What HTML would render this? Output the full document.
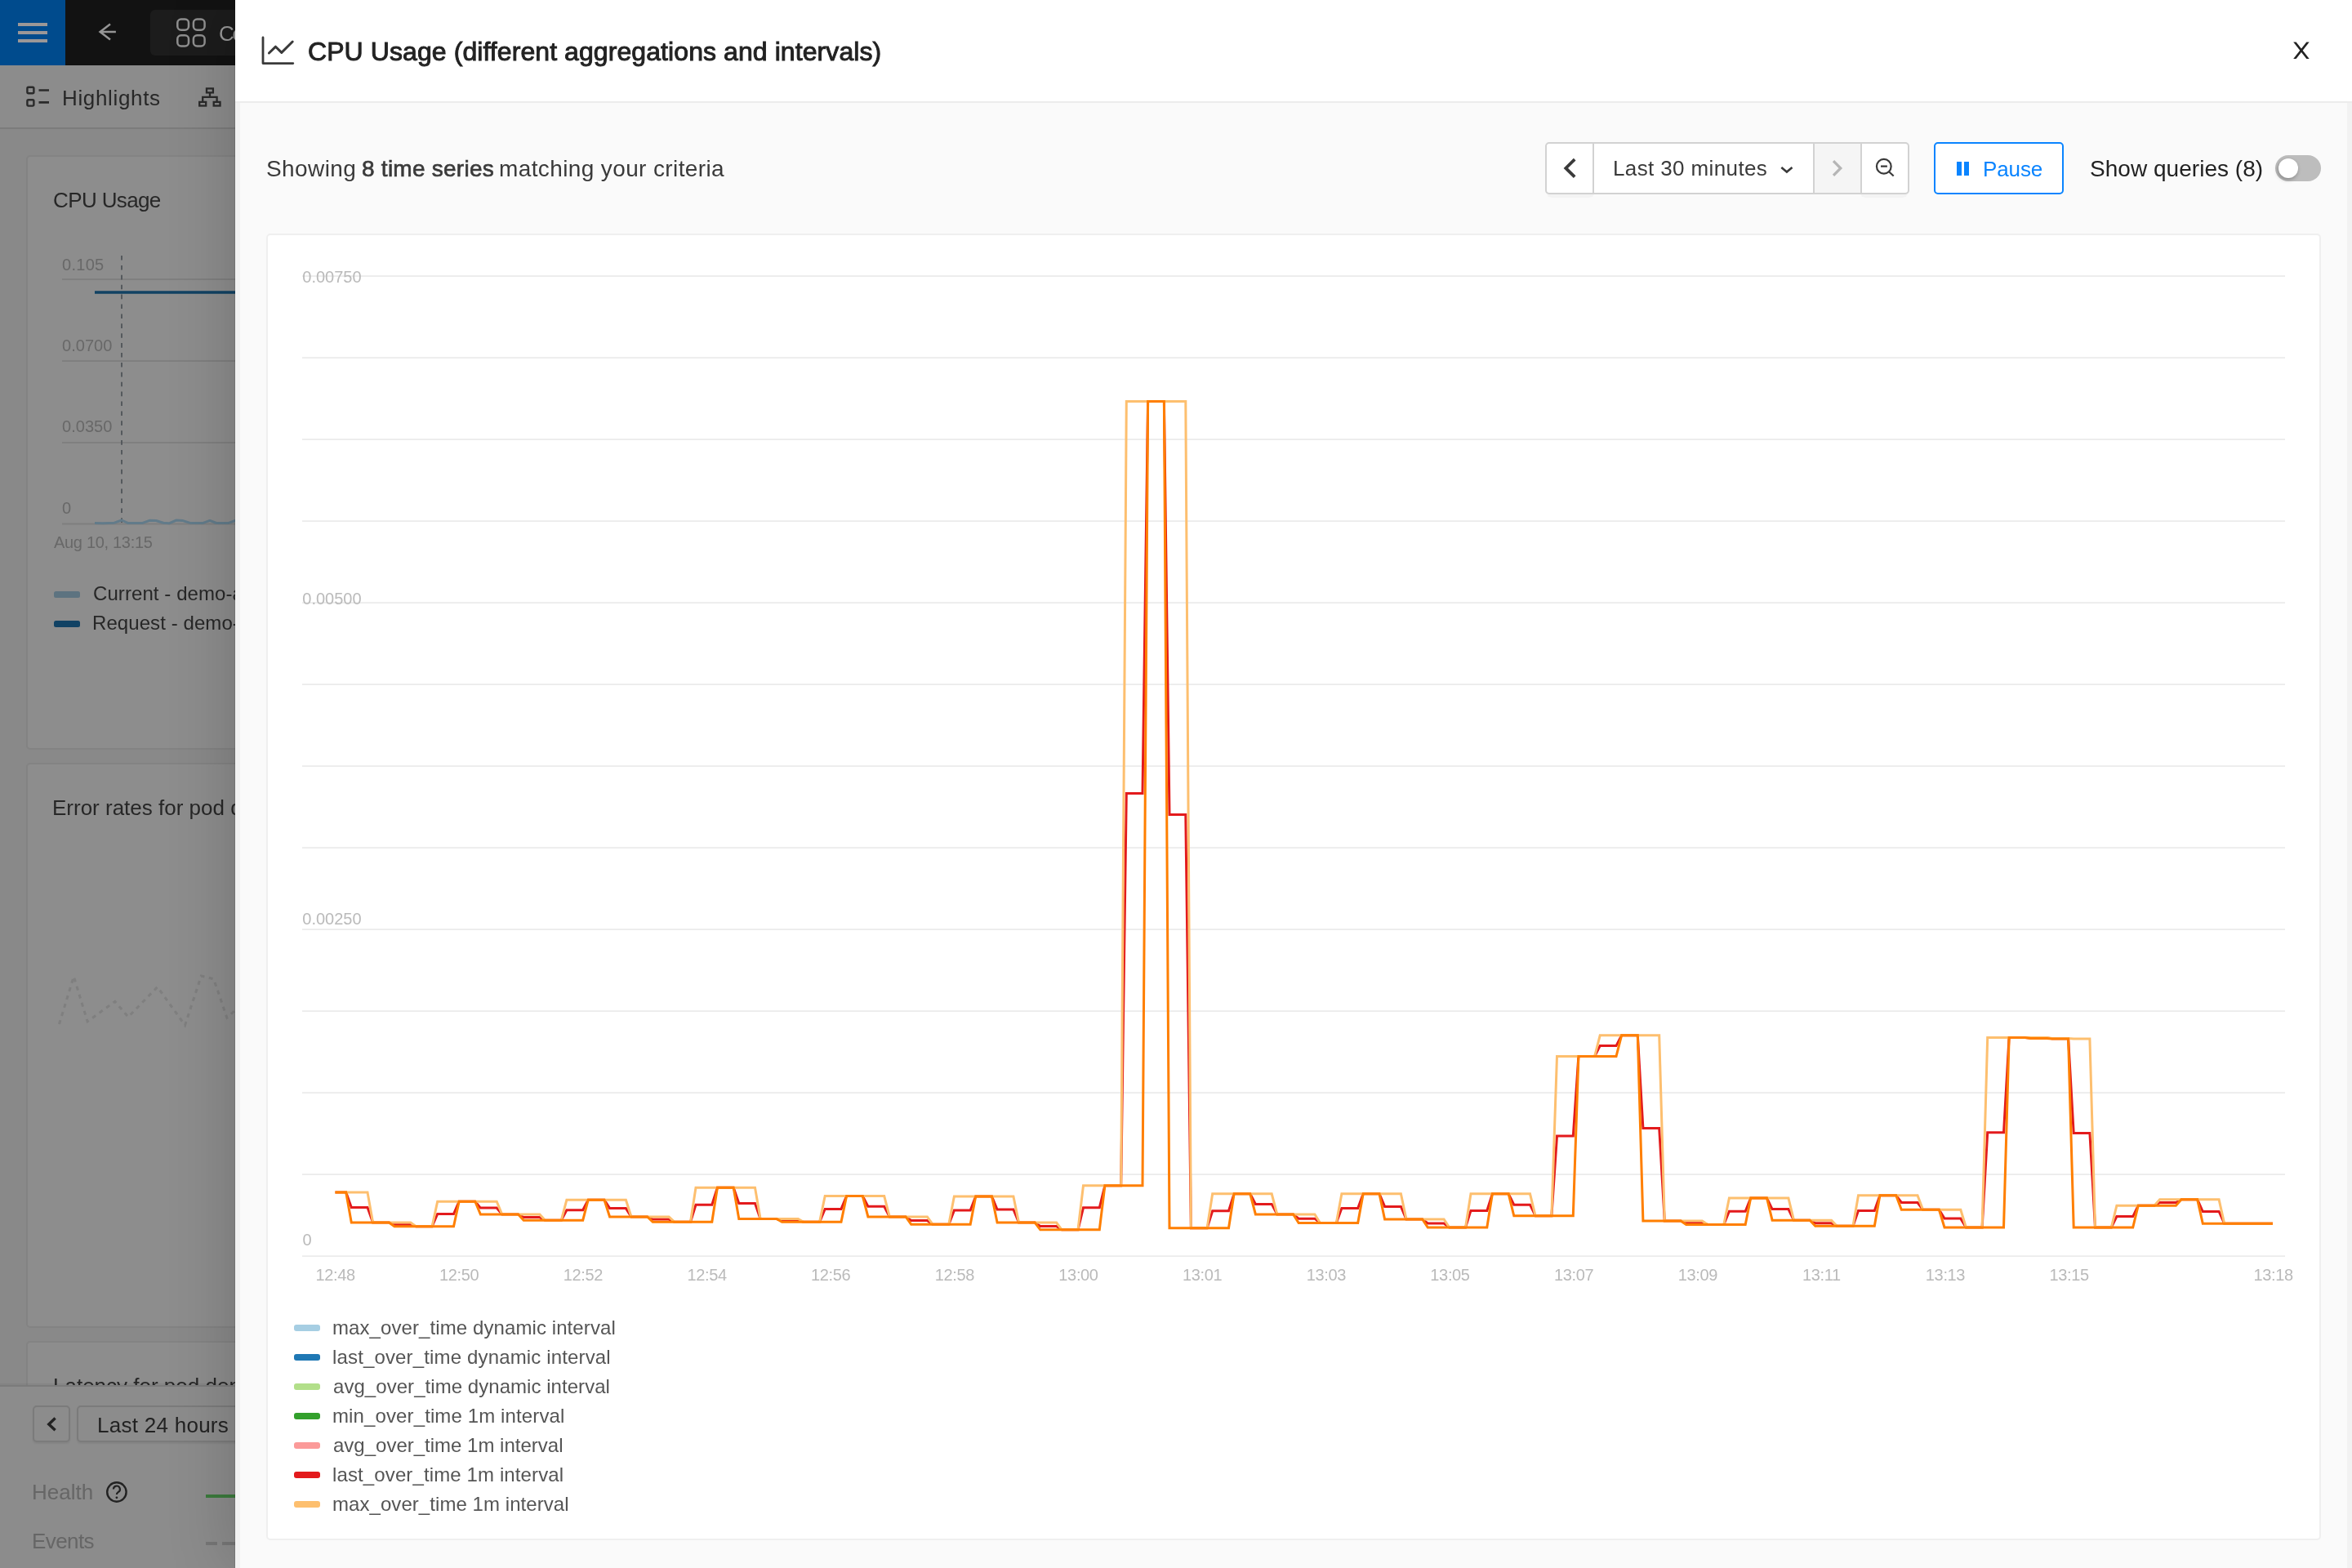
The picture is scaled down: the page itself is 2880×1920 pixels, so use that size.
<!DOCTYPE html>
<html lang="en">
<head>
<meta charset="utf-8">
<title>CPU Usage (different aggregations and intervals)</title>
<style>
*{box-sizing:border-box}
html,body{margin:0;padding:0}
body{font-family:"Liberation Sans",sans-serif;background:#898989}
#app{width:2880px;height:1920px;overflow:hidden;position:relative;background:#898989}
@media (min-width:1440px) and (max-width:1440px) and (min-height:960px) and (max-height:960px){#app{zoom:.5}}
.t{position:absolute;white-space:pre;line-height:1;margin:0;font-weight:normal;will-change:transform}
.abs{position:absolute}
svg{position:absolute;overflow:visible}
svg.chart{will-change:transform}
/* ---------- dimmed app behind the drawer ---------- */
#bg{position:absolute;left:0;top:0;width:2880px;height:1920px;overflow:hidden}
#topbar{position:absolute;left:0;top:0;width:2880px;height:80px;background:#121212}
#burger{position:absolute;left:0;top:0;width:80px;height:80px;background:#004b8d}
#burger i{position:absolute;left:22px;width:36px;height:4px;background:#9b9797}
#apptab{position:absolute;left:184px;top:12px;width:400px;height:56px;background:#1c1c1c;border-radius:6px}
#tabs{position:absolute;left:0;top:80px;width:2880px;height:78px;background:#8c8c8c;border-bottom:2px solid #7c7c7c}
.card{position:absolute;left:32px;width:1400px;background:#8d8d8d;border:2px solid #838383;border-radius:5px}
#footer{position:absolute;left:0;top:1696px;width:2880px;height:224px;background:#8c8c8c;border-top:2px solid #7b7b7b;box-shadow:0 -2px 1px rgba(0,0,0,.045)}
.fbtn{position:absolute;top:1721px;height:45px;border:2px solid #7b7b7b;border-radius:5px;background:#8c8c8c;box-shadow:0 2px 2px rgba(0,0,0,.06)}
/* ---------- drawer ---------- */
#modal{position:absolute;left:288px;top:0;width:2592px;height:1920px;background:#fafafa;box-shadow:-1px 0 0 rgba(0,0,0,.1),-10px 0 70px rgba(0,0,0,.16);border-left:6px solid #f2f2f2;border-right:6px solid #f2f2f2}
#mhead{position:absolute;left:-6px;top:0;width:2592px;height:126px;background:#fff;border-bottom:2px solid #ececec}
#card{position:absolute;left:32px;top:286px;width:2516px;height:1600px;background:#fff;border:2px solid #efefef;border-radius:5px}
.grp{position:absolute;left:1598px;top:174px;width:446px;height:64px;background:#fff;border:2px solid #d2d2d2;border-radius:5px}
.grp b{position:absolute;top:0;width:2px;height:60px;background:#d2d2d2}
.grp .dis{position:absolute;left:328px;top:0;width:56px;height:60px;background:#f5f5f5}
#pausebtn{position:absolute;left:2074px;top:174px;width:159px;height:64px;background:#fff;border:2px solid #0a84ff;border-radius:5px}
#toggle{position:absolute;left:2492px;top:190px;width:56px;height:32px;border-radius:16px;background:#bdbdbd}
#toggle i{position:absolute;left:4px;top:4px;width:24px;height:24px;border-radius:12px;background:#fff;box-shadow:-1px 2px 5px rgba(0,0,0,.3)}
.sw{position:absolute;left:66px;width:32px;height:8px;border-radius:3px}
.ax text{font-size:20px;fill:#bababa;font-family:"Liberation Sans",sans-serif}
</style>
</head>
<body>
<div id="app">

<div id="bg">
  <div id="topbar"></div>
  <div id="burger"><i style="top:28px"></i><i style="top:38px"></i><i style="top:48px"></i></div>
  <svg style="left:118px;top:26px" width="28" height="28" viewBox="118 26 28 28" fill="none" stroke="#959595" stroke-width="2.5"><path d="M141.9 39H123M135 29.6L122.6 39L135 48.5"/></svg>
  <div id="apptab"></div>
  <svg style="left:214px;top:20px" width="40" height="40" viewBox="214 20 40 40" fill="none" stroke="#8f8f8f" stroke-width="2.5"><rect x="217.3" y="23.5" width="13.7" height="13.3" rx="4.5"/><rect x="236.9" y="23.5" width="13.7" height="13.3" rx="4.5"/><rect x="217.3" y="43.2" width="13.7" height="13.3" rx="4.5"/><rect x="236.9" y="43.2" width="13.7" height="13.3" rx="4.5"/></svg>
  <span class="t" style="left:267.8px;top:27.5px;font-size:26px;color:#999;letter-spacing:-2.20px">Containers</span>

  <div id="tabs"></div>
  <svg style="left:30px;top:102px" width="34" height="32" viewBox="30 102 34 32" fill="none" stroke="#2a2a2a" stroke-width="2.4"><rect x="33.4" y="106.8" width="8" height="7.4" rx="1.5"/><rect x="33.4" y="122.2" width="8" height="7.4" rx="1.5"/><path d="M47.5 110.5H60M47.5 125.4H60" stroke-width="2.6"/></svg>
  <span class="t" style="left:75.5px;top:106.7px;font-size:26px;color:#272727;letter-spacing:0.66px">Highlights</span>
  <svg style="left:240px;top:104px" width="34" height="30" viewBox="240 104 34 30" fill="none" stroke="#2a2a2a" stroke-width="2.3"><rect x="253" y="108.4" width="7.9" height="5" /><rect x="244.2" y="124.9" width="8" height="4.6"/><rect x="261.7" y="124.9" width="7.8" height="4.6"/><path d="M257 113.4V118.9M248.2 124.9V118.9H265.6V124.9"/></svg>

  <!-- card 1 : CPU Usage -->
  <div class="card" style="top:190px;height:728px"></div>
  <span class="t" style="left:65.0px;top:232.0px;font-size:26px;color:#272727;letter-spacing:-0.62px">CPU Usage</span>
  <svg style="left:0;top:300px" width="300" height="360" viewBox="0 300 300 360">
    <g fill="#7f7f7f"><rect x="76" y="341" width="300" height="2"/><rect x="76" y="441" width="300" height="2"/><rect x="76" y="541" width="300" height="2"/><rect x="76" y="640.5" width="300" height="2"/></g>
    <path d="M116 358H300" stroke="#114263" stroke-width="3.4" fill="none"/>
    <path d="M149 313V642" stroke="#55595d" stroke-width="2" stroke-dasharray="5.6 6.3" fill="none"/>
    <polyline fill="none" stroke="#627b8a" stroke-width="3" stroke-linejoin="round" points="116,640.5 126,640.7 140,640.2 149,637 157,640.6 174,640.6 183,637.3 191,637.5 200,640.2 207,640.8 216,637 224,637.6 233,640.4 248,640.6 257,637.4 265,640.5 280,640.4 288,637.5 300,636"/>
  </svg>
  <span class="t" style="left:75.5px;top:313.5px;font-size:20px;color:#686868;letter-spacing:0.28px">0.105</span>
  <span class="t" style="left:75.5px;top:412.6px;font-size:20px;color:#686868;letter-spacing:0.04px">0.0700</span>
  <span class="t" style="left:75.5px;top:512.1px;font-size:20px;color:#686868;letter-spacing:0.04px">0.0350</span>
  <span class="t" style="left:75.5px;top:611.6px;font-size:20px;color:#686868">0</span>
  <span class="t" style="left:66.4px;top:654.1px;font-size:20px;color:#686868;letter-spacing:-0.31px">Aug 10, 13:15</span>
  <div class="abs" style="left:66px;top:724px;width:32px;height:8px;border-radius:2.5px;background:#5d7380"></div>
  <div class="abs" style="left:66px;top:760px;width:32px;height:8px;border-radius:2.5px;background:#114264"></div>
  <span class="t" style="left:113.8px;top:715.3px;font-size:24px;color:#272727;letter-spacing:0.08px">Current - demo-app</span>
  <span class="t" style="left:112.8px;top:751.4px;font-size:24px;color:#272727;letter-spacing:0.08px">Request - demo-app</span>

  <!-- card 2 : Error rates -->
  <div class="card" style="top:934px;height:692px"></div>
  <span class="t" style="left:64.4px;top:976.0px;font-size:26px;color:#272727">Error rates for pod demo-app</span>
  <svg style="left:60px;top:1180px" width="240" height="90" viewBox="60 1180 240 90"><polyline fill="none" stroke="#7f7f7f" stroke-width="3" stroke-dasharray="5 5.5" points="72.5,1254 90.3,1195.7 107.1,1250.8 140.8,1226.3 157,1245.3 192.8,1208.5 226.5,1255.4 246.4,1195 261.7,1198.8 277.9,1246.2 300,1226"/></svg>

  <!-- card 3 : Latency -->
  <div class="card" style="top:1642px;height:400px"></div>
  <span class="t" style="left:65.0px;top:1683.5px;font-size:26px;color:#272727">Latency for pod demo-app</span>

  <!-- footer : time range + timeline -->
  <div id="footer"></div>
  <div class="fbtn" style="left:40px;width:46px"></div>
  <svg style="left:54px;top:1732px" width="20" height="24" viewBox="54 1732 20 24" fill="none" stroke="#222" stroke-width="3.4"><path d="M67.6 1736.6L59.8 1743.9L67.6 1751.2"/></svg>
  <div class="fbtn" style="left:94px;width:400px"></div>
  <span class="t" style="left:118.8px;top:1731.5px;font-size:26px;color:#222;letter-spacing:0.27px">Last 24 hours</span>
  <span class="t" style="left:38.8px;top:1813.7px;font-size:26px;color:#666;letter-spacing:0.02px">Health</span>
  <svg style="left:128px;top:1812px" width="30" height="30" viewBox="128 1812 30 30" fill="none" stroke="#222" stroke-width="2.4"><circle cx="142.9" cy="1827" r="11.7"/><path d="M138.9 1823.6a4 4 0 1 1 5.8 3.5c-1.3.8-1.8 1.5-1.8 3" stroke-width="2.2"/><circle cx="142.9" cy="1833.8" r="1.4" fill="#222" stroke="none"/></svg>
  <div class="abs" style="left:252px;top:1829.5px;width:60px;height:4px;background:#3b7a3c"></div>
  <span class="t" style="left:38.8px;top:1874.3px;font-size:26px;color:#666;letter-spacing:-0.58px">Events</span>
  <div class="abs" style="left:252px;top:1888px;width:14px;height:4px;background:#767676"></div>
  <div class="abs" style="left:272px;top:1888px;width:20px;height:4px;background:#767676"></div>
</div>

<div id="modal">
  <div id="mhead">
    <svg style="left:26px;top:40px" width="48" height="44" viewBox="314 40 48 44" fill="none" stroke="#3a3a3a" stroke-width="2.8" stroke-linecap="round" stroke-linejoin="round"><path d="M322 46V77.6H358.8"/><path d="M329.4 65L337.5 57.2L344.8 64.4L358.2 51" stroke-width="3"/></svg>
    <h1 class="t" style="left:88.5px;top:46.7px;font-size:32px;color:#222;letter-spacing:0.08px;-webkit-text-stroke:0.96px #222">CPU Usage (different aggregations and intervals)</h1>
    <svg style="left:2514px;top:46px" width="32" height="32" viewBox="2802 46 32 32" fill="#222"><path d="M2808.2 51.6h3.4l16.1 20.5h-3.4z"/><path d="M2827.7 51.6h-3.4l-16.1 20.5h3.4z"/></svg>
  </div>

  <p class="t" style="left:31.8px;top:192.8px;font-size:28px;color:#3a3a3a;letter-spacing:0.42px">Showing</p><p class="t" style="left:148.5px;top:192.8px;font-size:28px;color:#3a3a3a;letter-spacing:0.25px;-webkit-text-stroke:0.67px #3a3a3a">8 time series</p><p class="t" style="left:317.0px;top:192.8px;font-size:28px;color:#3a3a3a;letter-spacing:0.38px">matching your criteria</p>

  <div class="abs" style="left:1600px;top:234px;width:58px;height:8px;border-radius:0 0 6px 6px;background:#f3f3f3"></div><div class="abs" style="left:1984px;top:234px;width:58px;height:8px;border-radius:0 0 6px 6px;background:#f3f3f3"></div>
  <div class="grp"><b style="left:56px"></b><div class="dis"></div><b style="left:326px"></b><b style="left:384px"></b></div>
  <svg style="left:1612px;top:184px" width="30" height="44" viewBox="1906 184 30 44" fill="none" stroke="#3a3a3a" stroke-width="3.8"><path d="M1928.2 195.1L1917.3 205.9L1928.2 216.7"/></svg>
  <span class="t" style="left:1681.0px;top:193.0px;font-size:26px;color:#3a3a3a;letter-spacing:0.38px">Last 30 minutes</span>
  <svg style="left:1880px;top:196px" width="24" height="24" viewBox="2174 196 24 24" fill="none" stroke="#3a3a3a" stroke-width="2.6"><path d="M2181.3 204.9L2187.9 210.6L2194.5 204.9"/></svg>
  <svg style="left:1944px;top:186px" width="24" height="40" viewBox="2238 186 24 40" fill="none" stroke="#b5b5b5" stroke-width="3.2"><path d="M2245 197.2L2253.8 206L2245 214.8"/></svg>
  <svg style="left:1998px;top:190px" width="32" height="32" viewBox="2292 190 32 32" fill="none" stroke="#3a3a3a" stroke-width="2.2"><circle cx="2306.8" cy="203.8" r="8.85"/><path d="M2303 203.7H2310.9M2313 210.3L2318.7 215.5"/></svg>

  <div id="pausebtn"></div>
  <div class="abs" style="left:2101.7px;top:198.2px;width:6.3px;height:17.3px;background:#0a84ff"></div>
  <div class="abs" style="left:2111px;top:198.2px;width:5.7px;height:17.3px;background:#0a84ff"></div>
  <span class="t" style="left:2133.5px;top:193.5px;font-size:26px;color:#0a84ff;letter-spacing:-0.12px">Pause</span>
  <span class="t" style="left:2264.5px;top:192.5px;font-size:28px;color:#222;letter-spacing:0.03px">Show queries (8)</span>
  <div id="toggle"><i></i></div>

  <div id="card"></div>
  <svg class="chart" style="left:32px;top:287px" width="2515" height="1320" viewBox="326 287 2515 1320">
<g fill="#ececec"><rect x="370" y="337.15" width="2428" height="1.8"/><rect x="370" y="437.16" width="2428" height="1.8"/><rect x="370" y="537.16" width="2428" height="1.8"/><rect x="370" y="637.17" width="2428" height="1.8"/><rect x="370" y="737.17" width="2428" height="1.8"/><rect x="370" y="837.18" width="2428" height="1.8"/><rect x="370" y="937.18" width="2428" height="1.8"/><rect x="370" y="1037.18" width="2428" height="1.8"/><rect x="370" y="1137.19" width="2428" height="1.8"/><rect x="370" y="1237.19" width="2428" height="1.8"/><rect x="370" y="1337.20" width="2428" height="1.8"/><rect x="370" y="1437.20" width="2428" height="1.8"/><rect x="370" y="1537.21" width="2428" height="1.8"/></g>
<g class="ax">
<text x="370.3" y="346.2">0.00750</text>
<text x="370.3" y="739.7">0.00500</text>
<text x="370.3" y="1132.0">0.00250</text>
<text x="370.5" y="1524.6">0</text>
<text x="410.6" y="1567.5" text-anchor="middle" letter-spacing="-0.35">12:48</text>
<text x="562.2" y="1567.5" text-anchor="middle" letter-spacing="-0.35">12:50</text>
<text x="713.9" y="1567.5" text-anchor="middle" letter-spacing="-0.35">12:52</text>
<text x="865.6" y="1567.5" text-anchor="middle" letter-spacing="-0.35">12:54</text>
<text x="1017.2" y="1567.5" text-anchor="middle" letter-spacing="-0.35">12:56</text>
<text x="1168.9" y="1567.5" text-anchor="middle" letter-spacing="-0.35">12:58</text>
<text x="1320.5" y="1567.5" text-anchor="middle" letter-spacing="-0.35">13:00</text>
<text x="1472.1" y="1567.5" text-anchor="middle" letter-spacing="-0.35">13:01</text>
<text x="1623.8" y="1567.5" text-anchor="middle" letter-spacing="-0.35">13:03</text>
<text x="1775.5" y="1567.5" text-anchor="middle" letter-spacing="-0.35">13:05</text>
<text x="1927.1" y="1567.5" text-anchor="middle" letter-spacing="-0.35">13:07</text>
<text x="2078.8" y="1567.5" text-anchor="middle" letter-spacing="-0.35">13:09</text>
<text x="2230.4" y="1567.5" text-anchor="middle" letter-spacing="-0.35">13:11</text>
<text x="2382.0" y="1567.5" text-anchor="middle" letter-spacing="-0.35">13:13</text>
<text x="2533.7" y="1567.5" text-anchor="middle" letter-spacing="-0.35">13:15</text>
<text x="2783.7" y="1567.5" text-anchor="middle" letter-spacing="-0.35">13:18</text>
</g>
<g fill="none" stroke-width="3" stroke-linejoin="miter" stroke-linecap="butt">
<polyline stroke="#e31a1c" points="410.5,1460.0 423.7,1460.0 430.3,1478.5 450.0,1478.5 456.6,1497.0 476.4,1497.0 483.0,1499.4 502.8,1499.4 509.4,1501.8 529.1,1501.8 535.7,1486.5 555.5,1486.5 562.1,1471.2 581.8,1471.2 588.4,1479.1 608.2,1479.1 614.8,1487.0 634.6,1487.0 641.2,1490.6 660.9,1490.6 667.5,1494.2 687.3,1494.2 693.9,1481.8 713.7,1481.8 720.2,1469.2 740.0,1469.2 746.6,1479.6 766.4,1479.6 773.0,1490.0 792.7,1490.0 799.3,1493.1 819.1,1493.1 825.7,1496.2 845.5,1496.2 852.0,1475.2 871.8,1475.2 878.4,1454.2 898.2,1454.2 904.8,1473.4 924.5,1473.4 931.1,1492.5 950.9,1492.5 957.5,1494.4 977.3,1494.4 983.9,1496.2 1003.6,1496.2 1010.2,1480.4 1030.0,1480.4 1036.6,1464.5 1056.3,1464.5 1062.9,1477.2 1082.7,1477.2 1089.3,1490.0 1109.1,1490.0 1115.7,1494.6 1135.4,1494.6 1142.0,1499.2 1161.8,1499.2 1168.4,1482.1 1188.2,1482.1 1194.7,1465.0 1214.5,1465.0 1221.1,1481.0 1240.9,1481.0 1247.5,1497.0 1267.2,1497.0 1273.8,1501.4 1293.6,1501.4 1300.2,1505.8 1320.0,1505.8 1326.5,1478.8 1346.3,1478.8 1352.9,1451.8 1372.7,1451.8 1379.3,971.6 1399.0,971.6 1405.6,491.5 1425.4,491.5 1432.0,997.6 1451.8,997.6 1458.4,1503.8 1478.1,1503.8 1484.7,1482.8 1504.5,1482.8 1511.1,1461.8 1530.8,1461.8 1537.4,1474.4 1557.2,1474.4 1563.8,1487.0 1583.6,1487.0 1590.2,1492.2 1609.9,1492.2 1616.5,1497.5 1636.3,1497.5 1642.9,1479.6 1662.7,1479.6 1669.2,1461.8 1689.0,1461.8 1695.6,1477.4 1715.4,1477.4 1722.0,1493.0 1741.7,1493.0 1748.3,1498.0 1768.1,1498.0 1774.7,1503.0 1794.5,1503.0 1801.0,1482.4 1820.8,1482.4 1827.4,1461.8 1847.2,1461.8 1853.8,1475.2 1873.5,1475.2 1880.1,1488.8 1899.9,1488.8 1906.5,1391.1 1926.3,1391.1 1932.9,1293.5 1952.6,1293.5 1959.2,1280.6 1979.0,1280.6 1985.6,1267.8 2005.3,1267.8 2011.9,1381.4 2031.7,1381.4 2038.3,1495.0 2058.1,1495.0 2064.7,1497.2 2084.4,1497.2 2091.0,1499.5 2110.8,1499.5 2117.4,1483.2 2137.2,1483.2 2143.7,1467.0 2163.5,1467.0 2170.1,1480.6 2189.9,1480.6 2196.5,1494.2 2216.2,1494.2 2222.8,1497.8 2242.6,1497.8 2249.2,1501.2 2269.0,1501.2 2275.5,1482.5 2295.3,1482.5 2301.9,1463.8 2321.7,1463.8 2328.3,1472.5 2348.0,1472.5 2354.6,1481.2 2374.4,1481.2 2381.0,1492.1 2400.8,1492.1 2407.4,1503.0 2427.1,1503.0 2433.7,1386.8 2453.5,1386.8 2460.1,1270.5 2479.8,1270.5 2486.4,1271.0 2506.2,1271.0 2512.8,1271.8 2532.6,1271.8 2539.2,1387.5 2558.9,1387.5 2565.5,1503.0 2585.3,1503.0 2591.9,1489.6 2611.7,1489.6 2618.2,1476.2 2638.0,1476.2 2644.6,1472.5 2664.4,1472.5 2671.0,1468.8 2690.7,1468.8 2697.3,1483.5 2717.1,1483.5 2723.7,1498.3 2783.0,1498.3"/>
<polyline stroke="#fdbf6f" points="410.5,1460.0 450.0,1460.0 456.6,1497.0 502.8,1497.0 509.4,1501.8 529.1,1501.8 535.7,1471.2 608.2,1471.2 614.8,1487.0 660.9,1487.0 667.5,1494.2 687.3,1494.2 693.9,1469.2 766.4,1469.2 773.0,1490.0 819.1,1490.0 825.7,1496.2 845.5,1496.2 852.0,1454.2 924.5,1454.2 931.1,1492.5 977.3,1492.5 983.9,1496.2 1003.6,1496.2 1010.2,1464.5 1082.7,1464.5 1089.3,1490.0 1135.4,1490.0 1142.0,1499.2 1161.8,1499.2 1168.4,1465.0 1240.9,1465.0 1247.5,1497.0 1293.6,1497.0 1300.2,1505.8 1320.0,1505.8 1326.5,1451.8 1372.7,1451.8 1379.3,491.5 1451.8,491.5 1458.4,1503.8 1478.1,1503.8 1484.7,1461.8 1557.2,1461.8 1563.8,1487.0 1609.9,1487.0 1616.5,1497.5 1636.3,1497.5 1642.9,1461.8 1715.4,1461.8 1722.0,1493.0 1768.1,1493.0 1774.7,1503.0 1794.5,1503.0 1801.0,1461.8 1873.5,1461.8 1880.1,1488.8 1899.9,1488.8 1906.5,1293.5 1952.6,1293.5 1959.2,1267.8 2031.7,1267.8 2038.3,1495.0 2084.4,1495.0 2091.0,1499.5 2110.8,1499.5 2117.4,1467.0 2189.9,1467.0 2196.5,1494.2 2242.6,1494.2 2249.2,1501.2 2269.0,1501.2 2275.5,1463.8 2348.0,1463.8 2354.6,1481.2 2400.8,1481.2 2407.4,1503.0 2427.1,1503.0 2433.7,1270.5 2506.2,1270.5 2512.8,1271.5 2532.6,1271.5 2539.2,1272.0 2558.9,1272.0 2565.5,1503.0 2585.3,1503.0 2591.9,1476.2 2638.0,1476.2 2644.6,1468.8 2717.1,1468.8 2723.7,1498.3 2783.0,1498.3"/>
<polyline stroke="#ff7f00" points="410.5,1460.0 423.7,1460.0 430.3,1497.0 476.4,1497.0 483.0,1501.8 555.5,1501.8 562.1,1471.2 581.8,1471.2 588.4,1487.0 634.6,1487.0 641.2,1494.2 713.7,1494.2 720.2,1469.2 740.0,1469.2 746.6,1490.0 792.7,1490.0 799.3,1496.2 871.8,1496.2 878.4,1454.2 898.2,1454.2 904.8,1492.5 950.9,1492.5 957.5,1496.2 1030.0,1496.2 1036.6,1464.5 1056.3,1464.5 1062.9,1490.0 1109.1,1490.0 1115.7,1499.2 1188.2,1499.2 1194.7,1465.0 1214.5,1465.0 1221.1,1497.0 1267.2,1497.0 1273.8,1505.8 1346.3,1505.8 1352.9,1451.8 1399.0,1451.8 1405.6,491.5 1425.4,491.5 1432.0,1503.8 1504.5,1503.8 1511.1,1461.8 1530.8,1461.8 1537.4,1487.0 1583.6,1487.0 1590.2,1497.5 1662.7,1497.5 1669.2,1461.8 1689.0,1461.8 1695.6,1493.0 1741.7,1493.0 1748.3,1503.0 1820.8,1503.0 1827.4,1461.8 1847.2,1461.8 1853.8,1488.8 1926.3,1488.8 1932.9,1293.5 1979.0,1293.5 1985.6,1267.8 2005.3,1267.8 2011.9,1495.0 2058.1,1495.0 2064.7,1499.5 2137.2,1499.5 2143.7,1467.0 2163.5,1467.0 2170.1,1494.2 2216.2,1494.2 2222.8,1501.2 2295.3,1501.2 2301.9,1463.8 2321.7,1463.8 2328.3,1481.2 2374.4,1481.2 2381.0,1503.0 2453.5,1503.0 2460.1,1270.5 2479.8,1270.5 2486.4,1271.5 2506.2,1271.5 2512.8,1272.0 2532.6,1272.0 2539.2,1503.0 2611.7,1503.0 2618.2,1476.2 2664.4,1476.2 2671.0,1468.8 2690.7,1468.8 2697.3,1498.3 2783.0,1498.3"/>
</g></svg>
  <div class="sw" style="top:1622px;background:#a6cee3"></div><span class="t" style="left:113.4px;top:1613.8px;font-size:24px;color:#555;letter-spacing:0.09px">max_over_time dynamic interval</span>
  <div class="sw" style="top:1658px;background:#1f78b4"></div><span class="t" style="left:113.4px;top:1649.8px;font-size:24px;color:#555;letter-spacing:0.15px">last_over_time dynamic interval</span>
  <div class="sw" style="top:1694px;background:#b2df8a"></div><span class="t" style="left:114.4px;top:1685.8px;font-size:24px;color:#555;letter-spacing:0.05px">avg_over_time dynamic interval</span>
  <div class="sw" style="top:1730px;background:#33a02c"></div><span class="t" style="left:113.4px;top:1721.8px;font-size:24px;color:#555;letter-spacing:0.12px">min_over_time 1m interval</span>
  <div class="sw" style="top:1766px;background:#fb9a99"></div><span class="t" style="left:114.4px;top:1757.8px;font-size:24px;color:#555">avg_over_time 1m interval</span>
  <div class="sw" style="top:1802px;background:#e31a1c"></div><span class="t" style="left:113.4px;top:1793.8px;font-size:24px;color:#555;letter-spacing:0.12px">last_over_time 1m interval</span>
  <div class="sw" style="top:1838px;background:#fdbf6f"></div><span class="t" style="left:113.4px;top:1829.8px;font-size:24px;color:#555;letter-spacing:0.06px">max_over_time 1m interval</span>
</div>

</div>
</body>
</html>
